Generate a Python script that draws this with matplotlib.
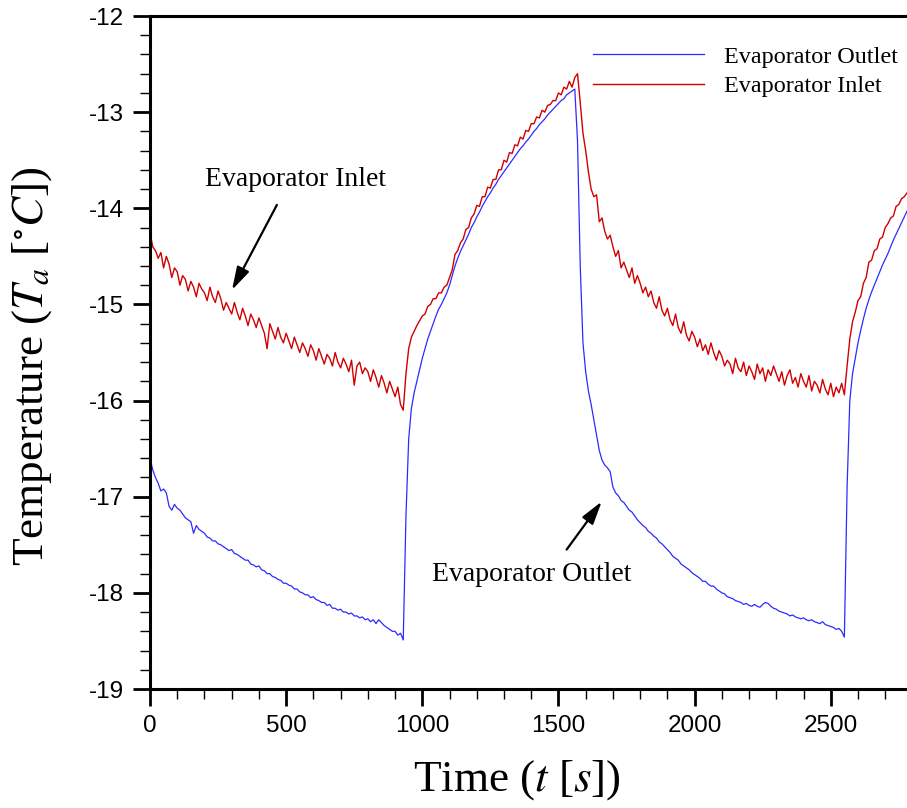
"""Evaporator inlet / outlet air temperature over one and a half defrost cycles."""
import numpy as np
import matplotlib
matplotlib.use('Agg')
import matplotlib.pyplot as plt
from matplotlib.ticker import MultipleLocator

# sample times (s), one reading every 10 s
time_s = np.arange(0, 2790, 10)

# Evaporator Inlet temperature (degC)
inlet = [
    -14.25, -14.40, -14.44, -14.52, -14.46, -14.62, -14.50, -14.58, -14.72, -14.62,
    -14.66, -14.80, -14.70, -14.74, -14.86, -14.76, -14.82, -14.92, -14.78, -14.84,
    -14.88, -14.96, -14.82, -14.92, -14.98, -14.86, -14.94, -15.06, -14.98, -15.04,
    -15.10, -14.98, -15.08, -15.16, -15.04, -15.12, -15.22, -15.10, -15.16, -15.24,
    -15.14, -15.22, -15.30, -15.46, -15.20, -15.28, -15.36, -15.24, -15.34, -15.40,
    -15.30, -15.38, -15.46, -15.34, -15.42, -15.50, -15.40, -15.46, -15.54, -15.42,
    -15.48, -15.58, -15.46, -15.54, -15.62, -15.52, -15.56, -15.64, -15.50, -15.60,
    -15.66, -15.56, -15.62, -15.70, -15.58, -15.84, -15.64, -15.60, -15.72, -15.66,
    -15.70, -15.80, -15.68, -15.76, -15.86, -15.74, -15.82, -15.92, -15.80, -15.88,
    -15.96, -15.86, -16.04, -16.10, -15.72, -15.46, -15.34, -15.28, -15.22, -15.17,
    -15.12, -15.10, -15.02, -15.00, -14.94, -14.94, -14.88, -14.88, -14.82, -14.80,
    -14.72, -14.64, -14.48, -14.44, -14.36, -14.32, -14.22, -14.20, -14.10, -14.06,
    -13.97, -13.98, -13.88, -13.88, -13.78, -13.79, -13.70, -13.70, -13.60, -13.60,
    -13.50, -13.52, -13.42, -13.43, -13.34, -13.35, -13.26, -13.28, -13.19, -13.20,
    -13.12, -13.12, -13.05, -13.06, -12.98, -13.00, -12.93, -12.92, -12.88, -12.88,
    -12.80, -12.82, -12.74, -12.76, -12.68, -12.74, -12.64, -12.60, -12.90, -13.22,
    -13.40, -13.62, -13.80, -13.88, -13.86, -14.14, -14.10, -14.24, -14.32, -14.28,
    -14.40, -14.50, -14.44, -14.62, -14.56, -14.64, -14.72, -14.62, -14.78, -14.70,
    -14.78, -14.88, -14.82, -14.92, -14.86, -14.98, -15.04, -14.92, -15.06, -15.12,
    -15.04, -15.16, -15.22, -15.10, -15.24, -15.30, -15.18, -15.32, -15.38, -15.28,
    -15.34, -15.44, -15.36, -15.48, -15.42, -15.52, -15.40, -15.50, -15.58, -15.48,
    -15.54, -15.64, -15.58, -15.62, -15.72, -15.56, -15.66, -15.70, -15.60, -15.74,
    -15.64, -15.70, -15.78, -15.62, -15.72, -15.66, -15.80, -15.68, -15.74, -15.64,
    -15.72, -15.80, -15.70, -15.84, -15.74, -15.68, -15.82, -15.76, -15.86, -15.72,
    -15.80, -15.86, -15.74, -15.90, -15.80, -15.84, -15.92, -15.78, -15.88, -15.94,
    -15.82, -15.96, -15.86, -15.92, -15.82, -15.94, -15.64, -15.36, -15.18, -15.08,
    -14.96, -14.92, -14.78, -14.72, -14.56, -14.54, -14.44, -14.42, -14.32, -14.30,
    -14.20, -14.16, -14.10, -14.08, -13.98, -13.96, -13.90, -13.88, -13.84,
]

# Evaporator Outlet temperature (degC)
outlet = [
    -16.60, -16.72, -16.80, -16.86, -16.94, -16.92, -16.96, -17.10, -17.14, -17.08,
    -17.12, -17.14, -17.18, -17.22, -17.24, -17.26, -17.38, -17.30, -17.34, -17.36,
    -17.38, -17.42, -17.43, -17.46, -17.46, -17.49, -17.50, -17.52, -17.54, -17.56,
    -17.55, -17.59, -17.60, -17.62, -17.64, -17.66, -17.66, -17.70, -17.71, -17.73,
    -17.72, -17.76, -17.77, -17.80, -17.80, -17.83, -17.84, -17.86, -17.87, -17.90,
    -17.90, -17.92, -17.93, -17.96, -17.96, -17.99, -18.00, -18.02, -18.02, -18.05,
    -18.04, -18.07, -18.08, -18.10, -18.10, -18.13, -18.12, -18.16, -18.16, -18.18,
    -18.17, -18.20, -18.20, -18.22, -18.21, -18.24, -18.24, -18.26, -18.25, -18.28,
    -18.27, -18.30, -18.28, -18.32, -18.28, -18.31, -18.34, -18.36, -18.38, -18.40,
    -18.40, -18.44, -18.42, -18.49, -17.20, -16.40, -16.08, -15.92, -15.80, -15.68,
    -15.56, -15.46, -15.36, -15.28, -15.20, -15.12, -15.05, -15.00, -14.94, -14.88,
    -14.80, -14.70, -14.60, -14.52, -14.45, -14.39, -14.33, -14.27, -14.20, -14.15,
    -14.09, -14.04, -13.98, -13.93, -13.88, -13.84, -13.79, -13.75, -13.70, -13.66,
    -13.62, -13.58, -13.54, -13.50, -13.46, -13.42, -13.38, -13.35, -13.31, -13.28,
    -13.24, -13.20, -13.17, -13.13, -13.10, -13.07, -13.03, -13.00, -12.97, -12.94,
    -12.91, -12.88, -12.86, -12.82, -12.80, -12.78, -12.76, -13.30, -14.60, -15.40,
    -15.70, -15.90, -16.04, -16.20, -16.36, -16.52, -16.62, -16.67, -16.70, -16.74,
    -16.90, -16.96, -16.99, -17.04, -17.06, -17.10, -17.14, -17.16, -17.20, -17.24,
    -17.27, -17.30, -17.32, -17.36, -17.38, -17.41, -17.43, -17.47, -17.49, -17.52,
    -17.55, -17.58, -17.62, -17.64, -17.66, -17.70, -17.72, -17.74, -17.76, -17.79,
    -17.81, -17.83, -17.85, -17.88, -17.88, -17.91, -17.93, -17.93, -17.96, -17.98,
    -18.00, -18.01, -18.04, -18.05, -18.06, -18.08, -18.09, -18.10, -18.12, -18.11,
    -18.13, -18.14, -18.12, -18.14, -18.15, -18.12, -18.10, -18.11, -18.14, -18.16,
    -18.17, -18.19, -18.20, -18.21, -18.22, -18.24, -18.23, -18.25, -18.26, -18.27,
    -18.26, -18.28, -18.29, -18.28, -18.30, -18.31, -18.32, -18.30, -18.33, -18.34,
    -18.35, -18.36, -18.38, -18.37, -18.40, -18.46, -16.90, -16.00, -15.72, -15.56,
    -15.40, -15.27, -15.15, -15.04, -14.95, -14.87, -14.80, -14.73, -14.66, -14.59,
    -14.53, -14.47, -14.40, -14.33, -14.27, -14.21, -14.15, -14.09, -14.03,
]

BLUE = '#2b2bff'
RED = '#d00000'

plt.rcParams['mathtext.fontset'] = 'stix'
plt.rcParams['axes.unicode_minus'] = False

fig = plt.figure(figsize=(9.07, 8.08), dpi=100)
ax = fig.add_axes([150 / 907, 1 - 689 / 808, 757 / 907, 673 / 808])

ax.plot(time_s, outlet, color=BLUE, linewidth=0.9, label='Evaporator Outlet')
ax.plot(time_s, inlet, color=RED, linewidth=1.0, label='Evaporator Inlet')

ax.set_xlim(0, 2780)
ax.set_ylim(-19, -12)
ax.xaxis.set_major_locator(MultipleLocator(500))
ax.xaxis.set_minor_locator(MultipleLocator(100))
ax.yaxis.set_major_locator(MultipleLocator(1))
ax.yaxis.set_minor_locator(MultipleLocator(0.2))

for side in ('left', 'bottom', 'top'):
    ax.spines[side].set_linewidth(2.2)
ax.spines['right'].set_visible(False)

ax.tick_params(which='major', direction='out', length=12, width=2, pad=7,
               top=False, right=False)
ax.tick_params(which='minor', direction='out', length=7, width=1,
               top=False, right=False)
for lbl in ax.get_xticklabels() + ax.get_yticklabels():
    lbl.set_family('Liberation Sans')
    lbl.set_fontsize(17.5)

ax.set_xlabel('Time ($t$ [$s$])', family='Liberation Serif', fontsize=32.5)
ax.set_ylabel(r'Temperature ($T_a$ [$^{\circ}C$])', family='Liberation Serif', fontsize=32.5)
ax.xaxis.set_label_coords(0.485, -0.102)
ax.yaxis.set_label_coords(-0.127, 0.48)

leg = ax.legend(loc='upper left', bbox_to_anchor=(593 / 907, 1 - 46 / 808),
                bbox_transform=fig.transFigure, frameon=False, borderpad=0,
                borderaxespad=0, handlelength=4.6, handletextpad=0.8,
                labelspacing=0.31,
                prop={'family': 'Liberation Serif', 'size': 17.4})

arrow = dict(arrowstyle='-|>,head_length=0.7,head_width=0.2', color='black',
             lw=1.6, mutation_scale=20, shrinkA=0, shrinkB=0)
ax.text(202, -13.70, 'Evaporator Inlet', family='Liberation Serif', fontsize=20,
        va='center', ha='left')
ax.annotate('', xy=(301, -14.85), xytext=(466, -13.965), arrowprops=arrow)
ax.text(1036, -17.81, 'Evaporator Outlet', family='Liberation Serif', fontsize=20,
        va='center', ha='left')
ax.annotate('', xy=(1659, -17.05), xytext=(1530, -17.55), arrowprops=arrow)

fig.savefig('out.png', dpi=100)
